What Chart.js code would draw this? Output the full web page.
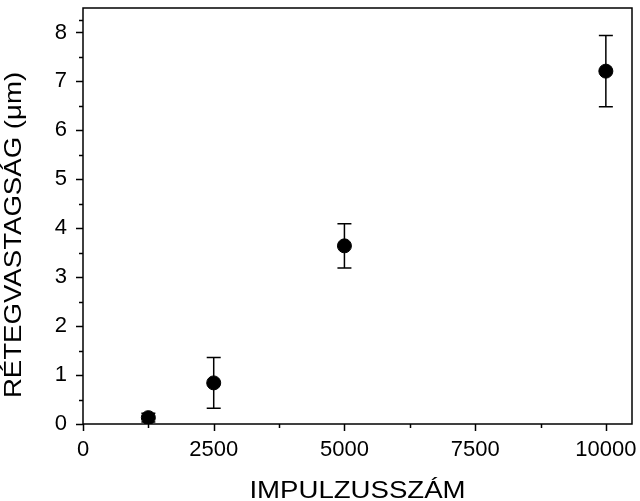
<!DOCTYPE html>
<html>
<head>
<meta charset="utf-8">
<script src="https://cdn.jsdelivr.net/npm/chart.js@4/dist/chart.umd.min.js"></script>
<style>
  html, body { margin: 0; padding: 0; background: #fff; }
  #wrap { width: 640px; height: 501px; }
</style>
</head>
<body>
<div id="wrap"><canvas id="chart" width="640" height="501"></canvas></div>
<script>
// data
const pulses = [1250, 2500, 5000, 10000];
const thickness = [0.13, 0.84, 3.64, 7.21];
const thicknessErr = [0.09, 0.52, 0.45, 0.73];
const xTicks = [0, 2500, 5000, 7500, 10000];
const yTicks = [0, 1, 2, 3, 4, 5, 6, 7, 8];

const xTitle = "IMPULZUSSZÁM";
const yTitle = "RÉTEGVASTAGSÁG (μm)";
const FONT = "'Liberation Sans', Arial, sans-serif";

// major ticks plus a minor one halfway between each pair
function withMinor(major, extraEnd) {
  const out = [];
  major.forEach((v, i) => {
    out.push(v);
    const next = i < major.length - 1 ? major[i + 1] : extraEnd;
    if (next !== undefined) out.push((v + next) / 2);
  });
  return out;
}

// error bars, ticks, frame, axis titles
const extras = {
  id: "extras",
  afterDatasetsDraw(chart) {
    const ctx = chart.ctx;
    const xs = chart.scales.x, ys = chart.scales.y;
    ctx.save();
    ctx.strokeStyle = "#000";
    ctx.lineWidth = 1.5;
    for (let i = 0; i < pulses.length; i++) {
      const px = xs.getPixelForValue(pulses[i]);
      const top = ys.getPixelForValue(thickness[i] + thicknessErr[i]);
      const bot = ys.getPixelForValue(thickness[i] - thicknessErr[i]);
      ctx.beginPath();
      ctx.moveTo(px, top); ctx.lineTo(px, bot);
      ctx.moveTo(px - 7, top); ctx.lineTo(px + 7, top);
      ctx.moveTo(px - 7, bot); ctx.lineTo(px + 7, bot);
      ctx.stroke();
    }
    ctx.restore();
  },
  afterDraw(chart) {
    const ctx = chart.ctx;
    const a = chart.chartArea;
    const xs = chart.scales.x, ys = chart.scales.y;
    ctx.save();
    ctx.strokeStyle = "#000";
    ctx.lineWidth = 1.5;
    ctx.strokeRect(a.left, a.top, a.right - a.left, a.bottom - a.top);

    ctx.beginPath();
    xs.ticks.forEach(t => {
      const px = Math.round(xs.getPixelForValue(t.value)) + 0.5;
      const len = xTicks.includes(t.value) ? 7 : 4;
      ctx.moveTo(px, a.bottom); ctx.lineTo(px, a.bottom + len);
    });
    ys.ticks.forEach(t => {
      const py = Math.round(ys.getPixelForValue(t.value)) + 0.5;
      const len = yTicks.includes(t.value) ? 7 : 4;
      ctx.moveTo(a.left, py); ctx.lineTo(a.left - len, py);
    });
    ctx.stroke();

    // titles: the original lettering is a touch wider than Arial
    ctx.fillStyle = "#000";
    ctx.font = "24px " + FONT;
    ctx.textAlign = "center";
    ctx.textBaseline = "alphabetic";

    ctx.save();
    ctx.translate((a.left + a.right) / 2, 498);
    ctx.scale(1.15, 1);
    ctx.fillText(xTitle, 0, 0);
    ctx.restore();

    ctx.save();
    ctx.translate(20.5, (a.top + a.bottom) / 2 + 19);
    ctx.rotate(-Math.PI / 2);
    ctx.scale(1.15, 1);
    ctx.fillText(yTitle, 0, 0);
    ctx.restore();

    ctx.restore();
  }
};

const ctx = document.getElementById("chart").getContext("2d");
new Chart(ctx, {
  type: "scatter",
  data: {
    datasets: [{
      label: "thickness",
      data: pulses.map((p, i) => ({ x: p, y: thickness[i] })),
      backgroundColor: "#000",
      borderColor: "#000",
      pointRadius: 7,
      pointHoverRadius: 7,
    }],
  },
  options: {
    responsive: false,
    animation: false,
    events: [],
    layout: { padding: { top: 7, right: 7, left: 0, bottom: 0 } },
    plugins: { legend: { display: false }, tooltip: { enabled: false } },
    scales: {
      x: {
        type: "linear",
        min: 0,
        max: 10500,
        afterFit(scale) {
          scale.height = 77;
          scale.paddingLeft = 0;
          scale.paddingRight = 0;
        },
        afterBuildTicks(scale) {
          scale.ticks = withMinor(xTicks).map(v => ({ value: v }));
        },
        border: { display: false },
        grid: { drawOnChartArea: false, tickLength: 7, tickColor: "rgba(0,0,0,0)" },
        ticks: {
          autoSkip: false,
          maxRotation: 0,
          color: "#000",
          padding: 6,
          font: { family: FONT, size: 22 },
          callback: v => (xTicks.includes(v) ? String(v) : ""),
        },
      },
      y: {
        type: "linear",
        min: 0,
        max: 8.5,
        afterFit(scale) {
          scale.width = 83;
          scale.paddingTop = 0;
          scale.paddingBottom = 0;
        },
        afterBuildTicks(scale) {
          scale.ticks = withMinor(yTicks, 8.5).filter(v => v <= 8.5).map(v => ({ value: v }));
        },
        border: { display: false },
        grid: { drawOnChartArea: false, tickLength: 7, tickColor: "rgba(0,0,0,0)" },
        ticks: {
          autoSkip: false,
          color: "#000",
          padding: 9,
          font: { family: FONT, size: 22 },
          callback: v => (yTicks.includes(v) ? String(v) : ""),
        },
      },
    },
  },
  plugins: [extras],
});
</script>
</body>
</html>
